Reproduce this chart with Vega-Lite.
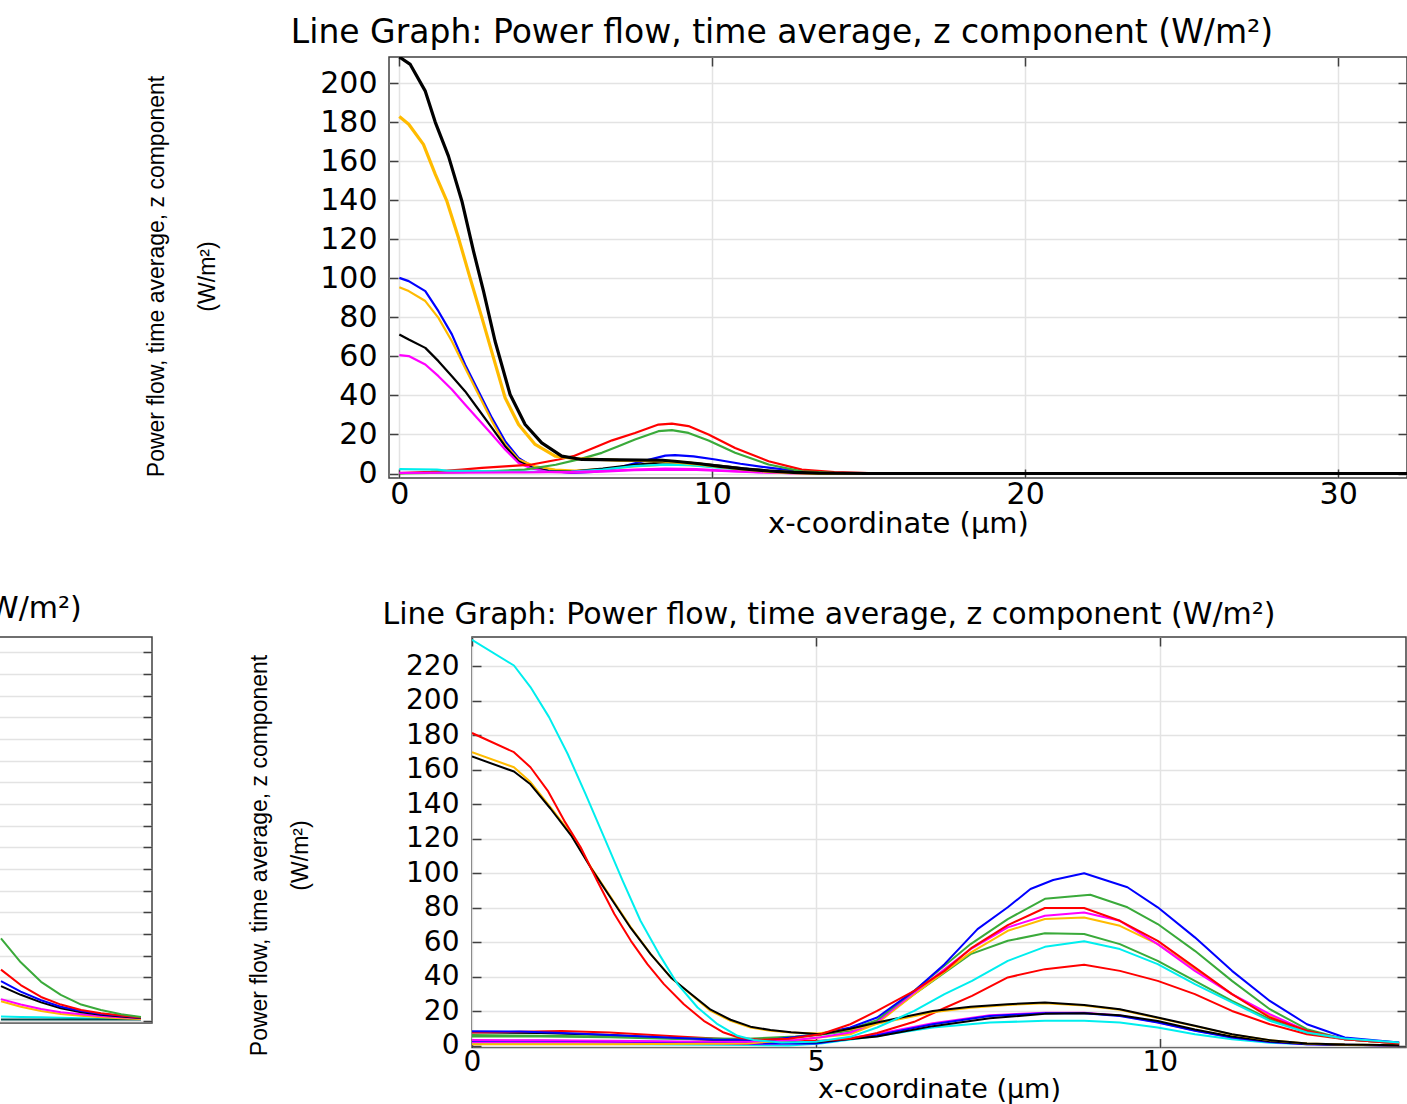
{
"$schema": "https://vega.github.io/schema/vega-lite/v6.json",
"padding": {"left": -1000, "top": 16, "right": 0, "bottom": 0},
"background": "#ffffff",
"spacing": 54,
"resolve": {"scale": {"color": "independent"}},
"config": {
  "view": {"stroke": "#404040", "strokeWidth": 1.5},
  "axis": {"gridColor": "#e3e3e3", "gridWidth": 1.5, "tickColor": "#404040", "tickWidth": 1.5, "domain": false, "labelFont": "DejaVu Sans", "labelColor": "#000000", "titleFont": "DejaVu Sans", "titleFontWeight": "normal", "titleColor": "#000000", "labelOverlap": false, "labelFlush": false},
  "title": {"font": "DejaVu Sans", "fontWeight": "normal", "color": "#000000", "baseline": "alphabetic"},
  "line": {"strokeJoin": "round"}
},
"datasets": {
"top": [
{"s":"t08","x":0,"y":100.3},{"s":"t08","x":0.3,"y":98.6},{"s":"t08","x":0.83,"y":93.5},{"s":"t08","x":1.25,"y":83.2},{"s":"t08","x":1.68,"y":71.3},{"s":"t08","x":2.1,"y":55.9},{"s":"t08","x":2.53,"y":42.2},{"s":"t08","x":2.96,"y":28.5},{"s":"t08","x":3.38,"y":16.6},{"s":"t08","x":3.81,"y":8.0},{"s":"t08","x":4.23,"y":3.7},{"s":"t08","x":4.77,"y":1.5},{"s":"t08","x":5.5,"y":0.3},{"s":"t08","x":6.2,"y":0.8},{"s":"t08","x":7.0,"y":3.0},{"s":"t08","x":7.96,"y":7.0},{"s":"t08","x":8.5,"y":9.2},{"s":"t08","x":8.81,"y":9.4},{"s":"t08","x":9.4,"y":8.8},{"s":"t08","x":10.1,"y":7.2},{"s":"t08","x":10.9,"y":5.0},{"s":"t08","x":11.8,"y":3.0},{"s":"t08","x":12.9,"y":0.9},{"s":"t08","x":14,"y":0.2},{"s":"t08","x":15,"y":0},{"s":"t08","x":32.2,"y":0},
{"s":"t07","x":0,"y":95.5},{"s":"t07","x":0.3,"y":93.5},{"s":"t07","x":0.83,"y":88.4},{"s":"t07","x":1.25,"y":79.8},{"s":"t07","x":1.68,"y":67.8},{"s":"t07","x":2.1,"y":54.2},{"s":"t07","x":2.53,"y":40.5},{"s":"t07","x":2.96,"y":26.8},{"s":"t07","x":3.38,"y":14.9},{"s":"t07","x":3.81,"y":7.2},{"s":"t07","x":4.34,"y":3.7},{"s":"t07","x":4.98,"y":2.0},{"s":"t07","x":5.6,"y":1.5},{"s":"t07","x":6.5,"y":2.2},{"s":"t07","x":7.5,"y":3.6},{"s":"t07","x":8.5,"y":4.6},{"s":"t07","x":9.3,"y":4.3},{"s":"t07","x":10.2,"y":3.2},{"s":"t07","x":11.2,"y":1.8},{"s":"t07","x":12.3,"y":0.7},{"s":"t07","x":13.5,"y":0.1},{"s":"t07","x":15,"y":0},{"s":"t07","x":32.2,"y":0},
{"s":"t06","x":0,"y":71.3},{"s":"t06","x":0.3,"y":68.7},{"s":"t06","x":0.83,"y":64.4},{"s":"t06","x":1.25,"y":57.6},{"s":"t06","x":1.68,"y":49.9},{"s":"t06","x":2.1,"y":42.2},{"s":"t06","x":2.53,"y":32.8},{"s":"t06","x":2.96,"y":23.4},{"s":"t06","x":3.38,"y":14.0},{"s":"t06","x":3.81,"y":6.3},{"s":"t06","x":4.23,"y":2.9},{"s":"t06","x":4.77,"y":1.2},{"s":"t06","x":5.5,"y":1.0},{"s":"t06","x":6.5,"y":2.5},{"s":"t06","x":7.5,"y":4.5},{"s":"t06","x":8.5,"y":5.8},{"s":"t06","x":9.3,"y":5.5},{"s":"t06","x":10.2,"y":4.0},{"s":"t06","x":11.2,"y":2.3},{"s":"t06","x":12.3,"y":0.9},{"s":"t06","x":13.5,"y":0.2},{"s":"t06","x":15,"y":0},{"s":"t06","x":32.2,"y":0},
{"s":"t05","x":0,"y":60.7},{"s":"t05","x":0.3,"y":60.2},{"s":"t05","x":0.83,"y":55.9},{"s":"t05","x":1.25,"y":49.9},{"s":"t05","x":1.68,"y":43.1},{"s":"t05","x":2.1,"y":35.4},{"s":"t05","x":2.53,"y":27.7},{"s":"t05","x":2.96,"y":20.0},{"s":"t05","x":3.38,"y":12.3},{"s":"t05","x":3.81,"y":5.4},{"s":"t05","x":4.23,"y":2.6},{"s":"t05","x":4.77,"y":0.8},{"s":"t05","x":5.5,"y":0.5},{"s":"t05","x":6.5,"y":1.0},{"s":"t05","x":7.5,"y":1.7},{"s":"t05","x":8.5,"y":2.0},{"s":"t05","x":9.5,"y":1.8},{"s":"t05","x":10.5,"y":1.2},{"s":"t05","x":11.5,"y":0.6},{"s":"t05","x":12.5,"y":0.2},{"s":"t05","x":14,"y":0},{"s":"t05","x":32.2,"y":0},
{"s":"t04","x":0,"y":0.2},{"s":"t04","x":1,"y":0.8},{"s":"t04","x":2,"y":2.0},{"s":"t04","x":2.64,"y":2.9},{"s":"t04","x":3.5,"y":3.8},{"s":"t04","x":4.23,"y":4.6},{"s":"t04","x":5.09,"y":7.2},{"s":"t04","x":5.56,"y":8.9},{"s":"t04","x":6.26,"y":13.5},{"s":"t04","x":6.8,"y":17},{"s":"t04","x":7.53,"y":20.8},{"s":"t04","x":8.28,"y":25.1},{"s":"t04","x":8.71,"y":25.6},{"s":"t04","x":9.24,"y":24.3},{"s":"t04","x":9.88,"y":20.0},{"s":"t04","x":10.73,"y":13.1},{"s":"t04","x":11.8,"y":6.3},{"s":"t04","x":12.86,"y":2.0},{"s":"t04","x":13.9,"y":0.7},{"s":"t04","x":15,"y":0.2},{"s":"t04","x":16,"y":0},{"s":"t04","x":32.2,"y":0},
{"s":"t03","x":0,"y":0.1},{"s":"t03","x":1,"y":0.3},{"s":"t03","x":2,"y":0.7},{"s":"t03","x":3,"y":1.3},{"s":"t03","x":4,"y":2.0},{"s":"t03","x":5,"y":4.5},{"s":"t03","x":5.8,"y":7.5},{"s":"t03","x":6.47,"y":10.6},{"s":"t03","x":7.0,"y":14},{"s":"t03","x":7.53,"y":17.4},{"s":"t03","x":8.28,"y":21.7},{"s":"t03","x":8.71,"y":22.2},{"s":"t03","x":9.24,"y":20.8},{"s":"t03","x":9.88,"y":16.9},{"s":"t03","x":10.73,"y":10.6},{"s":"t03","x":11.8,"y":4.6},{"s":"t03","x":12.86,"y":1.1},{"s":"t03","x":14,"y":0.2},{"s":"t03","x":15,"y":0},{"s":"t03","x":32.2,"y":0},
{"s":"t02","x":0,"y":2.2},{"s":"t02","x":1.2,"y":2.0},{"s":"t02","x":1.5,"y":1.5},{"s":"t02","x":2.5,"y":1.2},{"s":"t02","x":3.5,"y":1.0},{"s":"t02","x":4.5,"y":0.8},{"s":"t02","x":5.5,"y":1.0},{"s":"t02","x":6.5,"y":2.0},{"s":"t02","x":7.5,"y":3.8},{"s":"t02","x":8.5,"y":4.6},{"s":"t02","x":9.3,"y":4.3},{"s":"t02","x":10.2,"y":3.0},{"s":"t02","x":11.2,"y":1.6},{"s":"t02","x":12.3,"y":0.6},{"s":"t02","x":13.5,"y":0.1},{"s":"t02","x":15,"y":0},{"s":"t02","x":32.2,"y":0},
{"s":"t01","x":0,"y":0.3},{"s":"t01","x":2,"y":0.4},{"s":"t01","x":4,"y":0.6},{"s":"t01","x":5.5,"y":0.8},{"s":"t01","x":6.5,"y":1.3},{"s":"t01","x":7.5,"y":2.0},{"s":"t01","x":8.5,"y":2.5},{"s":"t01","x":9.5,"y":2.2},{"s":"t01","x":10.5,"y":1.4},{"s":"t01","x":11.5,"y":0.7},{"s":"t01","x":12.5,"y":0.2},{"s":"t01","x":14,"y":0},{"s":"t01","x":32.2,"y":0},
{"s":"t09","x":0,"y":183},{"s":"t09","x":0.3,"y":179},{"s":"t09","x":0.77,"y":168.7},{"s":"t09","x":1.15,"y":153.3},{"s":"t09","x":1.52,"y":139.6},{"s":"t09","x":1.89,"y":120.8},{"s":"t09","x":2.26,"y":100.3},{"s":"t09","x":2.64,"y":79.8},{"s":"t09","x":3.01,"y":59.3},{"s":"t09","x":3.38,"y":38.8},{"s":"t09","x":3.81,"y":25.1},{"s":"t09","x":4.34,"y":14.9},{"s":"t09","x":4.98,"y":8.9},{"s":"t09","x":5.62,"y":7.7},{"s":"t09","x":7.0,"y":6.8},{"s":"t09","x":8.4,"y":6.5},{"s":"t09","x":8.8,"y":6.0},{"s":"t09","x":9.6,"y":4.8},{"s":"t09","x":10.2,"y":3.6},{"s":"t09","x":11.0,"y":2.2},{"s":"t09","x":11.8,"y":1.1},{"s":"t09","x":12.6,"y":0.5},{"s":"t09","x":13.4,"y":0.1},{"s":"t09","x":15,"y":0},{"s":"t09","x":32.2,"y":0},
{"s":"t10","x":0,"y":213.5},{"s":"t10","x":0.35,"y":209.7},{"s":"t10","x":0.83,"y":196},{"s":"t10","x":1.15,"y":180},{"s":"t10","x":1.57,"y":162.7},{"s":"t10","x":2.0,"y":139.6},{"s":"t10","x":2.37,"y":114},{"s":"t10","x":2.69,"y":93.5},{"s":"t10","x":3.06,"y":67.8},{"s":"t10","x":3.54,"y":40.5},{"s":"t10","x":4.02,"y":25.1},{"s":"t10","x":4.55,"y":15.7},{"s":"t10","x":5.19,"y":8.9},{"s":"t10","x":5.83,"y":7.2},{"s":"t10","x":7.0,"y":7.0},{"s":"t10","x":8.4,"y":6.8},{"s":"t10","x":8.8,"y":6.3},{"s":"t10","x":9.6,"y":5.0},{"s":"t10","x":10.2,"y":3.8},{"s":"t10","x":11.0,"y":2.4},{"s":"t10","x":11.8,"y":1.3},{"s":"t10","x":12.6,"y":0.6},{"s":"t10","x":13.4,"y":0.2},{"s":"t10","x":15,"y":0},{"s":"t10","x":32.2,"y":0}
],
"bot": [
{"s":"b01","x":0,"y":1.5},{"s":"b01","x":2,"y":1.2},{"s":"b01","x":4,"y":0.6},{"s":"b01","x":4.6,"y":0.3},{"s":"b01","x":5.07,"y":1.5},{"s":"b01","x":5.89,"y":5.8},{"s":"b01","x":6.7,"y":10.7},{"s":"b01","x":7.53,"y":13.6},{"s":"b01","x":8.33,"y":14.6},{"s":"b01","x":8.9,"y":14.6},{"s":"b01","x":9.42,"y":13.6},{"s":"b01","x":9.97,"y":10.7},{"s":"b01","x":10.51,"y":6.8},{"s":"b01","x":11.05,"y":3.9},{"s":"b01","x":11.6,"y":1.9},{"s":"b01","x":12.14,"y":1.0},{"s":"b01","x":13.48,"y":0.5},
{"s":"b02","x":0,"y":2.2},{"s":"b02","x":1,"y":2.2},{"s":"b02","x":2,"y":2.0},{"s":"b02","x":3,"y":1.8},{"s":"b02","x":4,"y":1.2},{"s":"b02","x":5,"y":1.8},{"s":"b02","x":5.89,"y":7},{"s":"b02","x":6.7,"y":13.2},{"s":"b02","x":7.53,"y":17.8},{"s":"b02","x":8.33,"y":19.3},{"s":"b02","x":8.9,"y":19.3},{"s":"b02","x":9.42,"y":17.6},{"s":"b02","x":9.97,"y":13.8},{"s":"b02","x":10.51,"y":9.0},{"s":"b02","x":11.05,"y":5.0},{"s":"b02","x":11.6,"y":2.4},{"s":"b02","x":12.14,"y":1.0},{"s":"b02","x":13.48,"y":0.3},
{"s":"b03","x":0,"y":3.0},{"s":"b03","x":1,"y":3.0},{"s":"b03","x":2,"y":2.8},{"s":"b03","x":3,"y":2.3},{"s":"b03","x":4,"y":1.5},{"s":"b03","x":5,"y":1.5},{"s":"b03","x":5.89,"y":6.3},{"s":"b03","x":6.7,"y":12.6},{"s":"b03","x":7.53,"y":17.4},{"s":"b03","x":8.33,"y":18.9},{"s":"b03","x":8.9,"y":18.9},{"s":"b03","x":9.42,"y":17.4},{"s":"b03","x":9.97,"y":13.6},{"s":"b03","x":10.51,"y":8.8},{"s":"b03","x":11.05,"y":4.9},{"s":"b03","x":11.6,"y":2.3},{"s":"b03","x":12.14,"y":1.0},{"s":"b03","x":13.48,"y":0.3},
{"s":"b04","x":0,"y":8.0},{"s":"b04","x":1,"y":7.5},{"s":"b04","x":2,"y":6.3},{"s":"b04","x":3,"y":4.3},{"s":"b04","x":4,"y":2.6},{"s":"b04","x":5,"y":2.2},{"s":"b04","x":5.89,"y":5.5},{"s":"b04","x":6.7,"y":11.5},{"s":"b04","x":7.53,"y":16},{"s":"b04","x":8.33,"y":18.6},{"s":"b04","x":8.9,"y":19.0},{"s":"b04","x":9.42,"y":17.8},{"s":"b04","x":9.97,"y":14.5},{"s":"b04","x":10.51,"y":9.5},{"s":"b04","x":11.05,"y":5.5},{"s":"b04","x":11.6,"y":2.8},{"s":"b04","x":12.14,"y":1.3},{"s":"b04","x":12.69,"y":0.6},{"s":"b04","x":13.48,"y":0.3},
{"s":"b05","x":0,"y":7.8},{"s":"b05","x":0.7,"y":8.2},{"s":"b05","x":1.3,"y":8.7},{"s":"b05","x":2.0,"y":7.8},{"s":"b05","x":3.0,"y":5.5},{"s":"b05","x":3.8,"y":3.8},{"s":"b05","x":4.5,"y":3.2},{"s":"b05","x":5.07,"y":3.0},{"s":"b05","x":5.5,"y":4.2},{"s":"b05","x":5.89,"y":7.5},{"s":"b05","x":6.43,"y":14},{"s":"b05","x":6.87,"y":22},{"s":"b05","x":7.27,"y":29},{"s":"b05","x":7.79,"y":39.7},{"s":"b05","x":8.33,"y":44.5},{"s":"b05","x":8.9,"y":47},{"s":"b05","x":9.42,"y":43.5},{"s":"b05","x":9.97,"y":37.7},{"s":"b05","x":10.51,"y":30},{"s":"b05","x":11.05,"y":20.3},{"s":"b05","x":11.6,"y":12.6},{"s":"b05","x":12.14,"y":6.8},{"s":"b05","x":12.69,"y":3.9},{"s":"b05","x":13.48,"y":2.0},
{"s":"b06","x":0,"y":5.5},{"s":"b06","x":1,"y":5.5},{"s":"b06","x":2,"y":5.0},{"s":"b06","x":3,"y":4.0},{"s":"b06","x":4,"y":3.8},{"s":"b06","x":4.7,"y":5.0},{"s":"b06","x":5.07,"y":6.5},{"s":"b06","x":5.5,"y":8.8},{"s":"b06","x":5.89,"y":14},{"s":"b06","x":6.43,"y":30},{"s":"b06","x":7.25,"y":53.2},{"s":"b06","x":7.79,"y":60.9},{"s":"b06","x":8.33,"y":65.3},{"s":"b06","x":8.9,"y":64.8},{"s":"b06","x":9.42,"y":59},{"s":"b06","x":9.97,"y":49.3},{"s":"b06","x":10.51,"y":37.7},{"s":"b06","x":11.05,"y":26.1},{"s":"b06","x":11.6,"y":15.5},{"s":"b06","x":12.14,"y":7.8},{"s":"b06","x":12.69,"y":3.9},{"s":"b06","x":13.48,"y":1.5},
{"s":"b07","x":0,"y":1.0},{"s":"b07","x":2,"y":1.0},{"s":"b07","x":4,"y":1.5},{"s":"b07","x":4.7,"y":3.5},{"s":"b07","x":5.07,"y":5},{"s":"b07","x":5.5,"y":6.8},{"s":"b07","x":5.89,"y":13},{"s":"b07","x":6.43,"y":30},{"s":"b07","x":7.25,"y":54.1},{"s":"b07","x":7.79,"y":66.7},{"s":"b07","x":8.33,"y":73.5},{"s":"b07","x":8.9,"y":74.4},{"s":"b07","x":9.42,"y":69.6},{"s":"b07","x":9.97,"y":59},{"s":"b07","x":10.51,"y":44.5},{"s":"b07","x":11.05,"y":30},{"s":"b07","x":11.6,"y":17.4},{"s":"b07","x":12.14,"y":8.8},{"s":"b07","x":12.69,"y":3.9},{"s":"b07","x":13.48,"y":1.5},
{"s":"b08","x":0,"y":3.5},{"s":"b08","x":1,"y":3.3},{"s":"b08","x":2,"y":3.0},{"s":"b08","x":3,"y":2.6},{"s":"b08","x":4,"y":2.5},{"s":"b08","x":4.7,"y":3.5},{"s":"b08","x":5.07,"y":5},{"s":"b08","x":5.5,"y":7.8},{"s":"b08","x":5.89,"y":14},{"s":"b08","x":6.43,"y":31},{"s":"b08","x":7.25,"y":56.1},{"s":"b08","x":7.79,"y":68.7},{"s":"b08","x":8.33,"y":75.4},{"s":"b08","x":8.9,"y":77.3},{"s":"b08","x":9.42,"y":72.5},{"s":"b08","x":9.97,"y":59},{"s":"b08","x":10.51,"y":43.5},{"s":"b08","x":11.05,"y":30},{"s":"b08","x":11.6,"y":18.4},{"s":"b08","x":12.14,"y":8.8},{"s":"b08","x":12.69,"y":3.9},{"s":"b08","x":13.48,"y":1.5},
{"s":"b09","x":0,"y":6.3},{"s":"b09","x":1,"y":6.0},{"s":"b09","x":2,"y":5.5},{"s":"b09","x":3,"y":4.5},{"s":"b09","x":4,"y":4.2},{"s":"b09","x":4.7,"y":5.5},{"s":"b09","x":5.07,"y":7},{"s":"b09","x":5.5,"y":9.7},{"s":"b09","x":5.89,"y":15},{"s":"b09","x":6.43,"y":32},{"s":"b09","x":7.25,"y":59},{"s":"b09","x":7.79,"y":73.5},{"s":"b09","x":8.33,"y":85.2},{"s":"b09","x":8.99,"y":87.6},{"s":"b09","x":9.53,"y":80.3},{"s":"b09","x":9.97,"y":70.6},{"s":"b09","x":10.51,"y":55.1},{"s":"b09","x":11.05,"y":37.7},{"s":"b09","x":11.6,"y":21.3},{"s":"b09","x":12.14,"y":9.7},{"s":"b09","x":12.69,"y":3.9},{"s":"b09","x":13.48,"y":1.5},
{"s":"b10","x":0,"y":8.6},{"s":"b10","x":0.7,"y":8.4},{"s":"b10","x":1.5,"y":7.2},{"s":"b10","x":2.5,"y":5.5},{"s":"b10","x":3.5,"y":3.8},{"s":"b10","x":4.3,"y":3.5},{"s":"b10","x":5.0,"y":6.5},{"s":"b10","x":5.5,"y":10.7},{"s":"b10","x":5.89,"y":16.5},{"s":"b10","x":6.43,"y":31.9},{"s":"b10","x":6.87,"y":47.4},{"s":"b10","x":7.35,"y":67.7},{"s":"b10","x":7.79,"y":80.3},{"s":"b10","x":8.12,"y":90.9},{"s":"b10","x":8.45,"y":96.1},{"s":"b10","x":8.9,"y":100},{"s":"b10","x":9.53,"y":91.9},{"s":"b10","x":9.97,"y":80.3},{"s":"b10","x":10.51,"y":62.9},{"s":"b10","x":11.05,"y":43.5},{"s":"b10","x":11.6,"y":26.1},{"s":"b10","x":12.14,"y":12.6},{"s":"b10","x":12.69,"y":4.9},{"s":"b10","x":13.48,"y":2.0},
{"s":"b11","x":0,"y":170.1},{"s":"b11","x":0.61,"y":161.4},{"s":"b11","x":0.85,"y":152.8},{"s":"b11","x":1.14,"y":138.3},{"s":"b11","x":1.44,"y":122.8},{"s":"b11","x":1.73,"y":103.5},{"s":"b11","x":2.02,"y":86.1},{"s":"b11","x":2.31,"y":68.7},{"s":"b11","x":2.6,"y":53.2},{"s":"b11","x":2.89,"y":39.7},{"s":"b11","x":3.18,"y":30},{"s":"b11","x":3.47,"y":20.3},{"s":"b11","x":3.76,"y":14.6},{"s":"b11","x":4.05,"y":10.7},{"s":"b11","x":4.34,"y":8.8},{"s":"b11","x":4.64,"y":7.8},{"s":"b11","x":5.02,"y":7.2},{"s":"b11","x":5.5,"y":9.5},{"s":"b11","x":5.89,"y":12.8},{"s":"b11","x":6.7,"y":19.5},{"s":"b11","x":7.25,"y":22.2},{"s":"b11","x":7.79,"y":23.8},{"s":"b11","x":8.33,"y":24.8},{"s":"b11","x":8.9,"y":23.5},{"s":"b11","x":9.42,"y":21},{"s":"b11","x":9.97,"y":16.2},{"s":"b11","x":10.51,"y":11.5},{"s":"b11","x":11.05,"y":6.6},{"s":"b11","x":11.6,"y":3.3},{"s":"b11","x":12.14,"y":1.5},{"s":"b11","x":12.69,"y":0.8},{"s":"b11","x":13.48,"y":0.5},
{"s":"b12","x":0,"y":167.6},{"s":"b12","x":0.61,"y":158.9},{"s":"b12","x":0.85,"y":151.5},{"s":"b12","x":1.14,"y":137.5},{"s":"b12","x":1.44,"y":122},{"s":"b12","x":1.73,"y":103},{"s":"b12","x":2.02,"y":85.5},{"s":"b12","x":2.31,"y":68.2},{"s":"b12","x":2.6,"y":53},{"s":"b12","x":2.89,"y":39.7},{"s":"b12","x":3.18,"y":30.3},{"s":"b12","x":3.47,"y":21},{"s":"b12","x":3.76,"y":15.2},{"s":"b12","x":4.05,"y":11.2},{"s":"b12","x":4.34,"y":9.2},{"s":"b12","x":4.64,"y":8.0},{"s":"b12","x":5.07,"y":6.8},{"s":"b12","x":5.5,"y":10},{"s":"b12","x":5.89,"y":13.6},{"s":"b12","x":6.7,"y":20.3},{"s":"b12","x":7.25,"y":22.7},{"s":"b12","x":7.79,"y":24.2},{"s":"b12","x":8.33,"y":25.2},{"s":"b12","x":8.9,"y":23.8},{"s":"b12","x":9.42,"y":21.3},{"s":"b12","x":9.97,"y":16.5},{"s":"b12","x":10.51,"y":11.7},{"s":"b12","x":11.05,"y":6.8},{"s":"b12","x":11.6,"y":3.4},{"s":"b12","x":12.14,"y":1.5},{"s":"b12","x":12.69,"y":0.8},{"s":"b12","x":13.48,"y":0.5},
{"s":"b13","x":0,"y":181.2},{"s":"b13","x":0.61,"y":170.1},{"s":"b13","x":0.85,"y":161.4},{"s":"b13","x":1.1,"y":147.9},{"s":"b13","x":1.34,"y":130.5},{"s":"b13","x":1.58,"y":115.1},{"s":"b13","x":1.82,"y":95.7},{"s":"b13","x":2.07,"y":76.4},{"s":"b13","x":2.31,"y":60.9},{"s":"b13","x":2.55,"y":47.4},{"s":"b13","x":2.79,"y":35.8},{"s":"b13","x":3.08,"y":24.2},{"s":"b13","x":3.37,"y":14.6},{"s":"b13","x":3.66,"y":7.8},{"s":"b13","x":3.91,"y":4.5},{"s":"b13","x":4.2,"y":3.6},{"s":"b13","x":4.6,"y":4.2},{"s":"b13","x":5.07,"y":6.8},{"s":"b13","x":5.5,"y":12.6},{"s":"b13","x":5.89,"y":20.3},{"s":"b13","x":6.43,"y":31.9},{"s":"b13","x":6.87,"y":43.5},{"s":"b13","x":7.27,"y":57},{"s":"b13","x":7.79,"y":70},{"s":"b13","x":8.33,"y":79.9},{"s":"b13","x":8.9,"y":79.9},{"s":"b13","x":9.42,"y":72.5},{"s":"b13","x":9.97,"y":60.9},{"s":"b13","x":10.51,"y":45.5},{"s":"b13","x":11.05,"y":30},{"s":"b13","x":11.6,"y":16.5},{"s":"b13","x":12.14,"y":8.8},{"s":"b13","x":12.69,"y":3.9},{"s":"b13","x":13.48,"y":1.5},
{"s":"b14","x":0,"y":235.2},{"s":"b14","x":0.61,"y":220.3},{"s":"b14","x":0.85,"y":207.8},{"s":"b14","x":1.12,"y":190.4},{"s":"b14","x":1.39,"y":169.2},{"s":"b14","x":1.65,"y":146},{"s":"b14","x":1.92,"y":120.9},{"s":"b14","x":2.19,"y":95.7},{"s":"b14","x":2.45,"y":72.5},{"s":"b14","x":2.72,"y":53.2},{"s":"b14","x":2.99,"y":35.8},{"s":"b14","x":3.28,"y":22.3},{"s":"b14","x":3.57,"y":12.6},{"s":"b14","x":3.86,"y":5.9},{"s":"b14","x":4.1,"y":3.5},{"s":"b14","x":4.5,"y":2.0},{"s":"b14","x":5.0,"y":2.5},{"s":"b14","x":5.5,"y":5.3},{"s":"b14","x":5.89,"y":10.7},{"s":"b14","x":6.43,"y":20.3},{"s":"b14","x":6.87,"y":30},{"s":"b14","x":7.27,"y":37.7},{"s":"b14","x":7.79,"y":49.3},{"s":"b14","x":8.33,"y":57.4},{"s":"b14","x":8.9,"y":60.6},{"s":"b14","x":9.42,"y":56.1},{"s":"b14","x":9.97,"y":47.4},{"s":"b14","x":10.51,"y":35.8},{"s":"b14","x":11.05,"y":25.2},{"s":"b14","x":11.6,"y":14.6},{"s":"b14","x":12.14,"y":7.8},{"s":"b14","x":12.69,"y":4.3},{"s":"b14","x":13.48,"y":2.0}
],
"bl": [
{"s":"l1","x":11.0,"y":2},{"s":"l1","x":11.34,"y":1.8},{"s":"l1","x":11.69,"y":1.6},{"s":"l1","x":12.03,"y":1.4},{"s":"l1","x":12.38,"y":1.2},{"s":"l1","x":12.72,"y":1.0},{"s":"l1","x":13.07,"y":0.9},{"s":"l1","x":13.41,"y":0.8},
{"s":"l2","x":11.0,"y":0.6},{"s":"l2","x":11.69,"y":0.6},{"s":"l2","x":12.38,"y":0.6},{"s":"l2","x":13.07,"y":0.6},{"s":"l2","x":13.41,"y":0.6},
{"s":"l3","x":11.0,"y":9},{"s":"l3","x":11.34,"y":6.5},{"s":"l3","x":11.69,"y":4.5},{"s":"l3","x":12.03,"y":3.2},{"s":"l3","x":12.38,"y":2.3},{"s":"l3","x":12.72,"y":1.6},{"s":"l3","x":13.07,"y":1.2},{"s":"l3","x":13.41,"y":0.9},
{"s":"l4","x":11.0,"y":10},{"s":"l4","x":11.34,"y":7.5},{"s":"l4","x":11.69,"y":5.5},{"s":"l4","x":12.03,"y":4},{"s":"l4","x":12.38,"y":3},{"s":"l4","x":12.72,"y":2.2},{"s":"l4","x":13.07,"y":1.6},{"s":"l4","x":13.41,"y":1.2},
{"s":"l5","x":11.0,"y":16},{"s":"l5","x":11.34,"y":12},{"s":"l5","x":11.69,"y":8.5},{"s":"l5","x":12.03,"y":5.8},{"s":"l5","x":12.38,"y":4},{"s":"l5","x":12.72,"y":2.8},{"s":"l5","x":13.07,"y":2},{"s":"l5","x":13.41,"y":1.3},
{"s":"l6","x":11.0,"y":18.3},{"s":"l6","x":11.34,"y":13.5},{"s":"l6","x":11.69,"y":9.5},{"s":"l6","x":12.03,"y":6.5},{"s":"l6","x":12.38,"y":4.5},{"s":"l6","x":12.72,"y":3.2},{"s":"l6","x":13.07,"y":2.3},{"s":"l6","x":13.41,"y":1.5},
{"s":"l7","x":11.0,"y":23.6},{"s":"l7","x":11.34,"y":16.5},{"s":"l7","x":11.69,"y":11},{"s":"l7","x":12.03,"y":7.5},{"s":"l7","x":12.38,"y":5},{"s":"l7","x":12.72,"y":3.5},{"s":"l7","x":13.07,"y":2.5},{"s":"l7","x":13.41,"y":1.5},
{"s":"l8","x":11.0,"y":38},{"s":"l8","x":11.34,"y":27},{"s":"l8","x":11.69,"y":18},{"s":"l8","x":12.03,"y":12},{"s":"l8","x":12.38,"y":7.5},{"s":"l8","x":12.72,"y":5},{"s":"l8","x":13.07,"y":3},{"s":"l8","x":13.41,"y":1.8}
]
},
"vconcat": [
{
  "spacing": 0,
  "hconcat": [
    {
      "width": 107, "height": 10,
      "view": {"stroke": null},
      "data": {"name": "bl"},
      "mark": {"type": "line", "opacity": 0},
      "encoding": {
        "x": {"field": "x", "type": "quantitative", "axis": null},
        "y": {"field": "y", "type": "quantitative", "axis": null}
      }
    },
    {
      "width": 1018, "height": 421,
      "data": {"name": "top"},
      "title": {"text": "Line Graph: Power flow, time average, z component (W/m²)", "fontSize": 33, "offset": 6, "dx": -116},
      "layer": [
        {"transform": [{"filter": "datum.s != 't09' && datum.s != 't10'"}],
         "mark": {"type": "line", "strokeWidth": 2.2, "clip": true},
         "encoding": {
           "x": {"field": "x", "type": "quantitative", "scale": {"domain": [-0.33, 32.2], "nice": false, "zero": false},
                 "axis": {"values": [0, 10, 20, 30], "title": "x-coordinate (µm)", "labelFontSize": 30, "titleFontSize": 29, "tickSize": -9, "labelPadding": 10, "titleY": 54, "titleBaseline": "alphabetic", "grid": true}},
           "y": {"field": "y", "type": "quantitative", "scale": {"domain": [-2.3, 213.5], "nice": false, "zero": false},
                 "axis": {"values": [0, 20, 40, 60, 80, 100, 120, 140, 160, 180, 200], "labelFontSize": 30, "tickSize": -9, "labelPadding": 21, "grid": true,
                          "title": ["Power flow, time average, z component", "(W/m²)"], "titleFont": "Liberation Sans", "titleFontSize": 23, "titleX": -233, "titleY": 219, "titleAngle": 270, "titleAlign": "center", "titleBaseline": "middle", "titleLineHeight": 51}},
           "color": {"field": "s", "type": "nominal", "legend": null,
                     "scale": {"domain": ["t01","t02","t03","t04","t05","t06","t07","t08","t09","t10"], "range": ["#ff00ff","#00eeee","#3aaa3a","#ff0000","#ff00ff","#000000","#ffbb00","#0000ff","#ffbb00","#000000"]}}
         }},
        {"transform": [{"filter": "datum.s == 't09' || datum.s == 't10'"}],
         "mark": {"type": "line", "strokeWidth": 3.2, "clip": true},
         "encoding": {
           "x": {"field": "x", "type": "quantitative", "axis": null},
           "y": {"field": "y", "type": "quantitative", "axis": null},
           "color": {"field": "s", "type": "nominal", "legend": null}
         }},
        {"mark": {"type": "line", "opacity": 0},
         "encoding": {
           "x": {"field": "x", "type": "quantitative", "axis": {"orient": "top", "values": [0, 10, 20, 30], "labels": false, "grid": false, "tickSize": -9, "title": " ", "titleX": -300, "titleY": 40, "titleAlign": "left", "titleBaseline": "top", "titleAngle": 0, "titleFontSize": 10, "titleOpacity": 0}},
           "y": {"field": "y", "type": "quantitative", "axis": {"orient": "right", "values": [0, 20, 40, 60, 80, 100, 120, 140, 160, 180, 200], "labels": false, "grid": false, "tickSize": -9, "title": null}}
         }}
      ],
      "resolve": {"axis": {"x": "independent", "y": "independent"}}
    }
  ]
},
{
  "spacing": 77,
  "resolve": {"scale": {"color": "independent"}},
  "hconcat": [
    {
      "width": 171, "height": 386,
      "data": {"name": "bl"},
      "title": {"text": "Line Graph: Power flow, time average, z component (W/m²)", "fontSize": 30, "offset": 13, "anchor": "end", "dx": -71},
      "layer": [
        {"mark": {"type": "line", "strokeWidth": 2, "clip": true},
         "encoding": {
           "x": {"field": "x", "type": "quantitative", "scale": {"domain": [10.656, 13.6], "nice": false, "zero": false}, "axis": null},
           "y": {"field": "y", "type": "quantitative", "scale": {"domain": [-1, 177], "nice": false, "zero": false},
                 "axis": {"values": [0,10,20,30,40,50,60,70,80,90,100,110,120,130,140,150,160,170], "labels": false, "ticks": false, "grid": true, "title": " ", "titleX": -980, "titleY": 100, "titleAlign": "left", "titleBaseline": "top", "titleAngle": 0, "titleFontSize": 10, "titleOpacity": 0}},
           "color": {"field": "s", "type": "nominal", "legend": null,
                     "scale": {"domain": ["l1","l2","l3","l4","l5","l6","l7","l8"], "range": ["#00eeee","#004c4c","#ffbb00","#ff00ff","#000000","#0000ff","#ff0000","#3aaa3a"]}}
         }},
        {"mark": {"type": "line", "opacity": 0},
         "encoding": {
           "x": {"field": "x", "type": "quantitative", "axis": null},
           "y": {"field": "y", "type": "quantitative", "axis": {"orient": "right", "values": [0,10,20,30,40,50,60,70,80,90,100,110,120,130,140,150,160,170], "labels": false, "grid": false, "tickSize": -9, "title": null}}
         }}
      ],
      "resolve": {"axis": {"x": "independent", "y": "independent"}}
    },
    {
      "width": 934, "height": 410.5,
      "data": {"name": "bot"},
      "title": {"text": "Line Graph: Power flow, time average, z component (W/m²)", "fontSize": 30, "offset": 6, "dx": -110},
      "layer": [
        {"mark": {"type": "line", "strokeWidth": 2, "clip": true},
         "encoding": {
           "x": {"field": "x", "type": "quantitative", "scale": {"domain": [0, 13.58], "nice": false, "zero": false},
                 "axis": {"values": [0, 5, 10], "title": "x-coordinate (µm)", "labelFontSize": 28, "titleFontSize": 27, "tickSize": -9, "labelPadding": 10, "titleY": 50, "titleBaseline": "alphabetic", "grid": true}},
           "y": {"field": "y", "type": "quantitative", "scale": {"domain": [-0.87, 236.8], "nice": false, "zero": false},
                 "axis": {"values": [0,20,40,60,80,100,120,140,160,180,200,220], "labelFontSize": 28, "tickSize": -9, "labelPadding": 22, "grid": true,
                          "title": ["Power flow, time average, z component", "(W/m²)"], "titleFont": "Liberation Sans", "titleFontSize": 23, "titleX": -212.5, "titleY": 218, "titleAngle": 270, "titleAlign": "center", "titleBaseline": "middle", "titleLineHeight": 41}},
           "color": {"field": "s", "type": "nominal", "legend": null,
                     "scale": {"domain": ["b01","b02","b03","b04","b05","b06","b07","b08","b09","b10","b11","b12","b13","b14"], "range": ["#00eeee","#ff00ff","#0000ff","#000000","#ff0000","#3aaa3a","#ffbb00","#ff00ff","#3aaa3a","#0000ff","#ffbb00","#000000","#ff0000","#00eeee"]}}
         }},
        {"mark": {"type": "line", "opacity": 0},
         "encoding": {
           "x": {"field": "x", "type": "quantitative", "axis": {"orient": "top", "values": [0, 5, 10], "labels": false, "grid": false, "tickSize": -9, "title": " ", "titleX": -240, "titleY": 40, "titleAlign": "left", "titleBaseline": "top", "titleAngle": 0, "titleFontSize": 10, "titleOpacity": 0}},
           "y": {"field": "y", "type": "quantitative", "axis": {"orient": "right", "values": [0,20,40,60,80,100,120,140,160,180,200,220], "labels": false, "grid": false, "tickSize": -9, "title": null}}
         }}
      ],
      "resolve": {"axis": {"x": "independent", "y": "independent"}}
    }
  ]
}
]
}
